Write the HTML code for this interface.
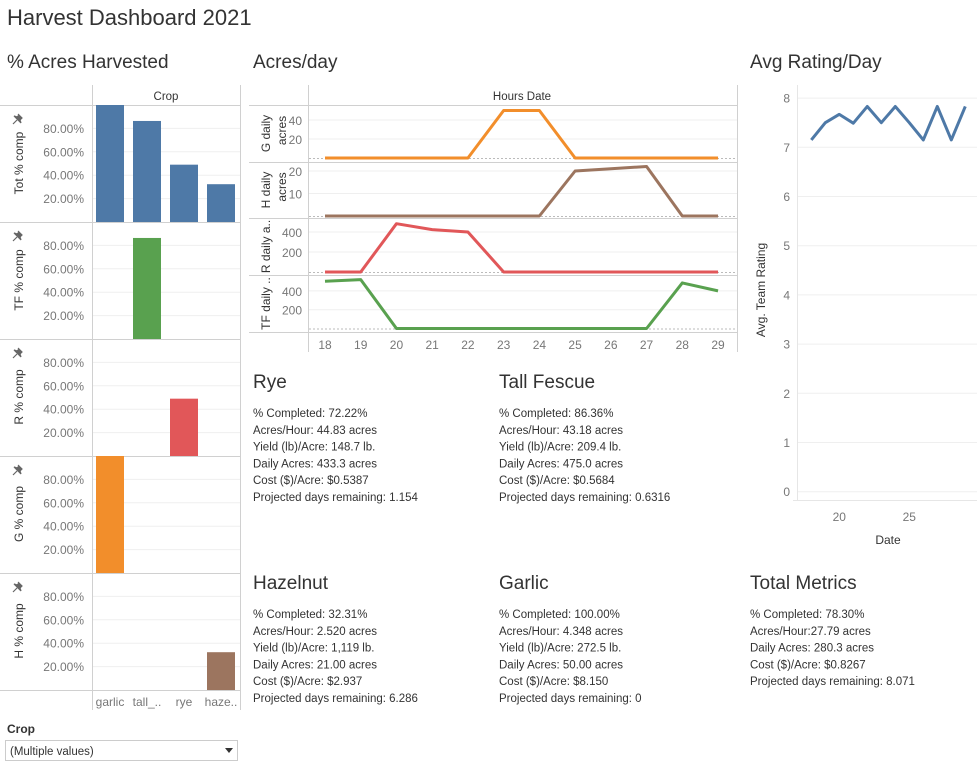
<!DOCTYPE html>
<html><head><meta charset="utf-8"><style>
body{margin:0;background:#fff;font-family:"Liberation Sans",sans-serif}
svg text{font-family:"Liberation Sans",sans-serif}
.t{fill:#333}.tick{fill:#777;font-size:12px}.body{fill:#333;font-size:11.5px}
</style></head><body>
<svg id="s" width="977" height="768" xmlns="http://www.w3.org/2000/svg">
<text x="7" y="25" font-size="22" class="t">Harvest Dashboard 2021</text>
<text x="7" y="68" font-size="19" class="t">% Acres Harvested</text>
<text x="253" y="68" font-size="19" class="t">Acres/day</text>
<text x="750" y="68" font-size="19" class="t">Avg Rating/Day</text>
<g id="left"></g>
<g id="mid"></g>
<g id="right"></g>
<g id="texts"></g>
<text x="7" y="733" font-size="12" fill="#333" font-weight="bold">Crop</text>
<g>
<rect x="5.5" y="740.5" width="232" height="20" fill="#fff" stroke="#ccc"/>
<text x="10" y="755" font-size="11.5" fill="#333">(Multiple values)</text>
<path d="M225 748 L233 748 L229 753 Z" fill="#333"/>
</g>
</svg>
<script>
const NS='http://www.w3.org/2000/svg';
function mk(p,tag,a,txt){const e=document.createElementNS(NS,tag);for(const k in a)e.setAttribute(k,a[k]);if(txt!==undefined)e.textContent=txt;p.appendChild(e);return e;}
// ---- Bar chart data ----
const crops=['garlic','tall_..','rye','haze..'];
const totComp=[100,86.36,49,32.31];
const tfComp=[0,86.36,0,0];
const rComp=[0,0,49,0];
const gComp=[100,0,0,0];
const hComp=[0,0,0,32.31];
const pctTicks=[20,40,60,80];
const barRows=[['Tot % comp',totComp,'#4e79a7'],['TF % comp',tfComp,'#59a14f'],['R % comp',rComp,'#e15759'],['G % comp',gComp,'#f28e2b'],['H % comp',hComp,'#9c755f']];
const L=document.getElementById('left');
mk(L,'text',{x:166,y:100,'font-size':11.5,fill:'#333','text-anchor':'middle'},'Crop');
mk(L,'line',{x1:92.5,y1:85,x2:92.5,y2:710,stroke:'#d0d0d0'});
mk(L,'line',{x1:240.5,y1:85,x2:240.5,y2:710,stroke:'#d0d0d0'});
barRows.forEach((r,i)=>{
  const top=105+i*117,bot=top+117;
  const y=v=>bot-v/100*117;
  const g=mk(L,'g',{});
  
  
  mk(g,'line',{x1:0,y1:top+0.5,x2:240,y2:top+0.5,stroke:'#d0d0d0'});
  pctTicks.forEach(t=>{mk(g,'line',{x1:93,y1:y(t),x2:240,y2:y(t),stroke:'#efefef'});
    mk(g,'text',{x:84,y:y(t)+4.5,'text-anchor':'end',class:'tick','font-size':12.5},t.toFixed(2)+'%');});
  mk(g,'text',{transform:`translate(23,${top+58}) rotate(-90)`,'text-anchor':'middle','font-size':12,fill:'#333'},r[0]);
  const pin=mk(g,'path',{d:'M0,-5 L4,-1 L2,1 L3,4 L-4,-3 L-1,-2 L1,-4 Z M-1,1 L-5,5',transform:`translate(18,${top+14}) rotate(0)`,fill:'#666',stroke:'#666','stroke-width':1.2});
  
  
  r[1].forEach((v,j)=>{if(!v)return;const b=mk(g,'rect',{x:96+j*37,y:y(v),width:28,height:bot-y(v),fill:r[2]});
    
    });
});
mk(L,'line',{x1:0,y1:690.5,x2:240,y2:690.5,stroke:'#d0d0d0'});
crops.forEach((c,j)=>mk(L,'text',{x:110+j*37,y:706,'text-anchor':'middle',class:'tick','font-size':12},c));
// ---- Line chart data ----
const days=[18,19,20,21,22,23,24,25,26,27,28,29];
const gDaily=[0,0,0,0,0,50,50,0,0,0,0,0];
const hDaily=[0,0,0,0,0,0,0,20,21,22,0,0];
const rDaily=[0,0,483,424,400,0,0,0,0,0,0,0];
const tfDaily=[503,520,0,0,0,0,0,0,0,0,485,400];
const lineRows=[{n:['G daily','acres'],v:gDaily,c:'#f28e2b',top:105,h:57,zero:158,scale:0.95,ticks:[20,40]},
 {n:['H daily','acres'],v:hDaily,c:'#9c755f',top:162,h:56,zero:216,scale:2.25,ticks:[10,20]},
 {n:['R daily a..'],v:rDaily,c:'#e15759',top:218,h:57,zero:272,scale:0.1,ticks:[200,400]},
 {n:['TF daily ..'],v:tfDaily,c:'#59a14f',top:275,h:57,zero:328.5,scale:0.094,ticks:[200,400]}];
const M=document.getElementById('mid');
const xd=d=>325+(d-18)*35.73;
mk(M,'text',{x:522,y:100,'font-size':11.5,fill:'#333','text-anchor':'middle'},'Hours Date');
mk(M,'line',{x1:308.5,y1:85,x2:308.5,y2:352,stroke:'#d0d0d0'});
mk(M,'line',{x1:737.5,y1:85,x2:737.5,y2:352,stroke:'#d0d0d0'});
lineRows.forEach((r,i)=>{
  const g=mk(M,'g',{});
  
  
  mk(g,'line',{x1:249,y1:r.top+0.5,x2:737,y2:r.top+0.5,stroke:'#d0d0d0'});
  const y=v=>r.zero-v*r.scale;
  r.ticks.forEach(t=>{mk(g,'line',{x1:309,y1:y(t),x2:737,y2:y(t),stroke:'#efefef'});
    mk(g,'text',{x:302,y:y(t)+5,'text-anchor':'end',class:'tick','font-size':13},t);});
  mk(g,'line',{x1:309,y1:r.zero+0.5,x2:737,y2:r.zero+0.5,stroke:'#bbb','stroke-dasharray':'2,2'});
  const cy=r.top+r.h/2;
  if(r.n.length==2){mk(g,'text',{transform:`translate(270,${cy}) rotate(-90)`,'text-anchor':'middle','font-size':12,fill:'#333'},r.n[0]);
    mk(g,'text',{transform:`translate(286,${cy-3}) rotate(-90)`,'text-anchor':'middle','font-size':12,fill:'#333'},r.n[1]);}
  else mk(g,'text',{transform:`translate(270,${cy}) rotate(-90)`,'text-anchor':'middle','font-size':12,fill:'#333'},r.n[0]);
  const p=mk(g,'polyline',{points:days.map((d,k)=>xd(d)+','+y(r.v[k])).join(' '),fill:'none',stroke:r.c,'stroke-width':3,'stroke-linejoin':'round'});
  
  
});
mk(M,'line',{x1:249,y1:332.5,x2:737,y2:332.5,stroke:'#d0d0d0'});
days.forEach(d=>mk(M,'text',{x:xd(d),y:349,'text-anchor':'middle',class:'tick','font-size':12.5},d));
// ---- Rating chart data ----
const rDays=[18,19,20,21,22,23,24,25,26,27,28,29];
const rating=[7.15,7.5,7.67,7.49,7.83,7.5,7.83,7.5,7.15,7.83,7.15,7.83];
const rTicks=[0,1,2,3,4,5,6,7,8];
const xTicksR=[20,25];
const R=document.getElementById('right');
const rx=d=>839.3+(d-20)*14, ry=v=>491.7-v*49.2;
rTicks.forEach(t=>{mk(R,'line',{x1:798,y1:ry(t),x2:977,y2:ry(t),stroke:'#efefef'});
  mk(R,'text',{x:790,y:ry(t)+4.5,'text-anchor':'end',class:'tick','font-size':12.5},t);});
mk(R,'line',{x1:797.5,y1:85,x2:797.5,y2:501,stroke:'#e6e6e6'});
mk(R,'line',{x1:793,y1:500.5,x2:977,y2:500.5,stroke:'#e6e6e6'});
xTicksR.forEach(t=>mk(R,'text',{x:rx(t),y:521,'text-anchor':'middle',class:'tick','font-size':12.5},t));
mk(R,'text',{x:888,y:544,'text-anchor':'middle','font-size':12,fill:'#333'},'Date');
mk(R,'text',{transform:'translate(765,290) rotate(-90)','text-anchor':'middle','font-size':12,fill:'#333'},'Avg. Team Rating');
const rl=mk(R,'polyline',{points:rDays.map((d,k)=>rx(d)+','+ry(rating[k])).join(' '),fill:'none',stroke:'#4e79a7','stroke-width':3,'stroke-linejoin':'round'});


// ---- Text blocks ----
const blocks=[
 [253,388,'Rye',['% Completed: 72.22%','Acres/Hour: 44.83 acres','Yield (lb)/Acre: 148.7 lb.','Daily Acres: 433.3 acres','Cost ($)/Acre: $0.5387','Projected days remaining: 1.154']],
 [499,388,'Tall Fescue',['% Completed: 86.36%','Acres/Hour: 43.18 acres','Yield (lb)/Acre: 209.4 lb.','Daily Acres: 475.0 acres','Cost ($)/Acre: $0.5684','Projected days remaining: 0.6316']],
 [253,589,'Hazelnut',['% Completed: 32.31%','Acres/Hour: 2.520 acres','Yield (lb)/Acre: 1,119 lb.','Daily Acres: 21.00 acres','Cost ($)/Acre: $2.937','Projected days remaining: 6.286']],
 [499,589,'Garlic',['% Completed: 100.00%','Acres/Hour: 4.348 acres','Yield (lb)/Acre: 272.5 lb.','Daily Acres: 50.00 acres','Cost ($)/Acre: $8.150','Projected days remaining: 0']],
 [750,589,'Total Metrics',['% Completed: 78.30%','Acres/Hour:27.79 acres','Daily Acres: 280.3 acres','Cost ($)/Acre: $0.8267','Projected days remaining: 8.071']]];
const T=document.getElementById('texts');
blocks.forEach(b=>{const g=mk(T,'g',{});
  
  
  mk(g,'text',{x:b[0],y:b[1],'font-size':19,fill:'#333'},b[2]);
  b[3].forEach((l,k)=>mk(g,'text',{x:b[0],y:b[1]+29+k*16.8,class:'body'},l));});
</script>
</body></html>
